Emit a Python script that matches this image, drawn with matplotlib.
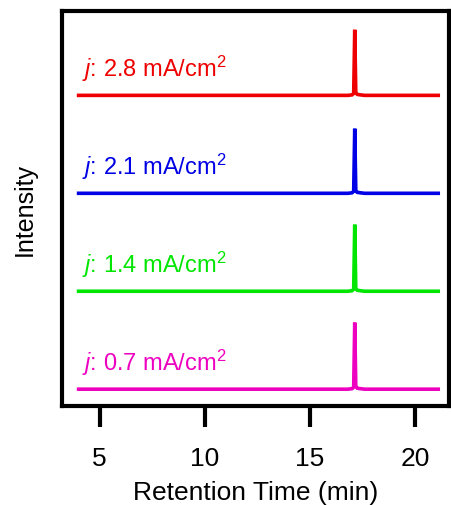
import matplotlib.pyplot as plt

plt.rcParams['font.family'] = ['Liberation Sans', 'DejaVu Sans']
plt.rcParams['mathtext.fontset'] = 'custom'
plt.rcParams['mathtext.rm'] = 'Liberation Sans'
plt.rcParams['mathtext.it'] = 'Liberation Sans:italic'

# DATOS
labels = ['0.7', '1.4', '2.1', '2.8']
colores = ['#ee00c0', '#00e600', '#0000e6', '#ee0000']
offsets = [0, 1, 2, 3]

t = [4.0, 10.0, 16.8, 17.0, 17.08, 17.13, 17.18, 17.25, 17.4, 17.6, 21.1]
senal = [
    [0, 0, 0, 0.005, 0.02, 0.68, 0.03, 0.01, 0.005, 0, 0],
    [0, 0, 0, 0.005, 0.02, 0.68, 0.03, 0.01, 0.005, 0, 0],
    [0, 0, 0, 0.005, 0.02, 0.66, 0.03, 0.01, 0.005, 0, 0],
    [0, 0, 0, 0.005, 0.02, 0.67, 0.03, 0.01, 0.005, 0, 0],
]

fig = plt.figure(figsize=(4.51, 5.06), dpi=100)
ax = fig.add_axes([0.137, 0.196, 0.858, 0.78])

for lab, c, off, s in zip(labels, colores, offsets, senal):
    ax.plot(t, [v + off for v in s], color=c, lw=2.6, solid_joinstyle='miter')
    ax.text(4.15, off + 0.2, r'$j$: ' + lab + r' mA/cm$^{2}$', color=c,
            fontsize=17, ha='left', va='baseline')

ax.set_xlim(3.2, 21.6)
ax.set_ylim(-0.17, 3.86)
ax.set_xticks([5, 10, 15, 20])
ax.set_yticks([])
ax.tick_params(axis='x', direction='out', length=15, width=3, labelsize=19, pad=14)
for sp in ax.spines.values():
    sp.set_linewidth(3)
ax.set_xlabel('Retention Time (min)', fontsize=19, labelpad=7)
ax.set_ylabel('Intensity', fontsize=18, labelpad=18)

fig.savefig('out.png', dpi=100)
